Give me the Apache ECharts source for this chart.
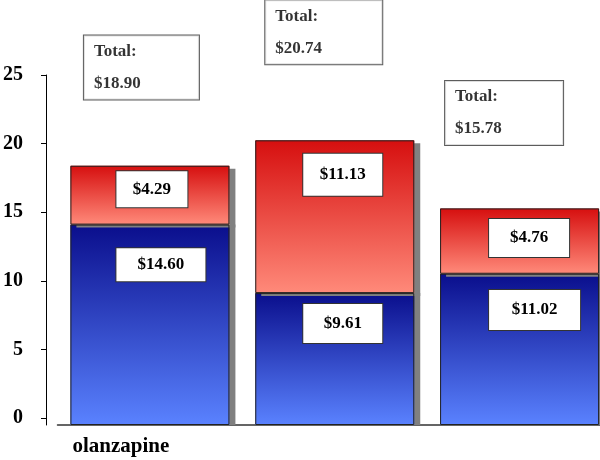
<!DOCTYPE html>
<html>
<head>
<meta charset="utf-8">
<script src="https://cdn.jsdelivr.net/npm/echarts@6/dist/echarts.min.js"></script>
<style>html,body{margin:0;padding:0;background:#fff;overflow:hidden;width:600px;height:460px;}#c{width:612px;height:460px;}</style>
</head>
<body>
<div id="c"></div>
<script>
// ---- data ----
var categories = ['olanzapine', '', ''];
var lowerValues = [14.60, 9.61, 11.02];   // blue segment
var upperValues = [4.29, 11.13, 4.76];    // red segment
var totalValues = [18.90, 20.74, 15.78];
var yTickValues = [0, 5, 10, 15, 20, 25];

// ---- label styling (positions relative to segment centre) ----
var lowerLabelStyle = [
  {offset: [11, -60], width: 89, height: 33},
  {offset: [8, -35.5], width: 79, height: 39},
  {offset: [15, -39.4], width: 91, height: 40}
];
var upperLabelStyle = [
  {offset: [2, -6], width: 71, height: 36},
  {offset: [8, -42], width: 79, height: 42},
  {offset: [9.5, -3], width: 80, height: 38}
];
var totalLabelStyle = [
  {offset: [-66, -98], width: 95},
  {offset: [-69.5, -108], width: 97},
  {offset: [-74.5, -95.5], width: 98}
];

var FONT = 'Liberation Serif, Times New Roman, serif';

function money(v) { return '$' + v.toFixed(2); }

function segLabel(st) {
  return {
    show: true,
    position: 'inside',
    offset: st.offset,
    width: st.width,
    height: st.height,
    align: 'center',
    verticalAlign: 'middle',
    backgroundColor: '#ffffff',
    borderColor: '#333333',
    borderWidth: 1,
    padding: 0,
    color: '#000',
    fontFamily: FONT,
    fontWeight: 'bold',
    fontSize: 17,
    formatter: function (p) { return money(p.value); }
  };
}

var redGrad = {type: 'linear', x: 0, y: 0, x2: 0, y2: 1,
  colorStops: [{offset: 0, color: '#d60f0f'}, {offset: 1, color: '#ff8a7a'}]};
var blueGrad = {type: 'linear', x: 0, y: 0, x2: 0, y2: 1,
  colorStops: [{offset: 0, color: '#0a0e8c'}, {offset: 1, color: '#5a82ff'}]};

var lowerData = lowerValues.map(function (v, i) {
  return {value: v, label: segLabel(lowerLabelStyle[i])};
});
var upperData = upperValues.map(function (v, i) {
  return {value: v, label: segLabel(upperLabelStyle[i])};
});
var totalData = totalValues.map(function (v, i) {
  var st = totalLabelStyle[i];
  return {
    value: [i, v],
    label: {
      show: true,
      position: 'inside',
      offset: st.offset,
      align: 'left',
      verticalAlign: 'middle',
      width: st.width,
      lineHeight: 32,
      padding: [0, 10, 0, 10],
      backgroundColor: '#ffffff',
      borderColor: '#333333',
      borderWidth: 1,
      color: '#000',
      fontFamily: FONT,
      fontWeight: 'bold',
      fontSize: 17,
      formatter: 'Total:\n' + money(v)
    }
  };
});

var BW = 159;
var chart = echarts.init(document.getElementById('c'), null, {renderer: 'canvas'});
chart.setOption({
  animation: false,
  backgroundColor: '#ffffff',
  grid: {left: 57.5, right: 0, top: 75, bottom: 35, containLabel: false},
  xAxis: {
    type: 'category',
    data: categories,
    boundaryGap: true,
    axisLine: {show: true, onZero: false, lineStyle: {color: '#333', width: 1.5}},
    axisTick: {show: false},
    axisLabel: {
      color: '#000', fontFamily: FONT, fontWeight: 'bold', fontSize: 21,
      margin: 11, padding: [0, 58, 0, 0], interval: 0
    }
  },
  yAxis: [
    {
      type: 'value',
      min: -0.5,
      max: 25,
      offset: 11.5,
      axisLine: {show: true, onZero: false, lineStyle: {color: '#000', width: 1}},
      axisTick: {show: true, inside: false, length: 5, customValues: yTickValues, lineStyle: {color: '#000'}},
      axisLabel: {
        customValues: yTickValues, margin: 23, color: '#000',
        fontFamily: FONT, fontWeight: 'bold', fontSize: 20
      },
      splitLine: {show: false}
    },
    {
      type: 'value',
      min: 0,
      max: 25.5,
      show: false,
      splitLine: {show: false}
    }
  ],
  series: [
    {
      type: 'bar',
      name: 'lower',
      stack: 'fill',
      yAxisIndex: 1,
      barWidth: BW,
      data: lowerValues,
      itemStyle: {
        color: blueGrad, borderWidth: 0,
        shadowColor: '#808080', shadowBlur: 0, shadowOffsetX: 6, shadowOffsetY: 0
      },
      z: 2
    },
    {
      type: 'bar',
      name: 'upper',
      stack: 'fill',
      yAxisIndex: 1,
      barWidth: BW,
      data: upperValues,
      itemStyle: {
        color: redGrad, borderWidth: 0,
        shadowColor: '#808080', shadowBlur: 0, shadowOffsetX: 6, shadowOffsetY: 3
      },
      z: 2
    },
    {
      type: 'bar',
      name: 'lowerEdge',
      stack: 'edge',
      yAxisIndex: 1,
      barWidth: BW,
      barGap: '-100%',
      data: lowerData,
      itemStyle: {color: 'rgba(0,0,0,0)', borderColor: '#222', borderWidth: 1},
      z: 3
    },
    {
      type: 'bar',
      name: 'upperEdge',
      stack: 'edge',
      yAxisIndex: 1,
      barWidth: BW,
      barGap: '-100%',
      data: upperData,
      itemStyle: {color: 'rgba(0,0,0,0)', borderColor: '#222', borderWidth: 1},
      z: 3
    },
    {
      type: 'scatter',
      name: 'total',
      yAxisIndex: 1,
      symbolSize: 0,
      data: totalData,
      z: 10
    }
  ]
});
</script>
</body>
</html>
